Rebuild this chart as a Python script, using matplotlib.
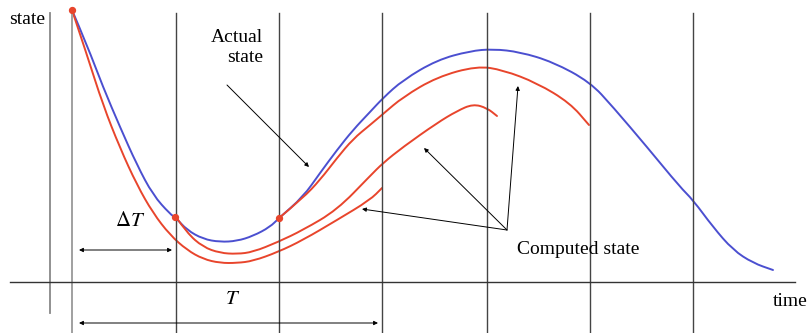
import numpy as np
import matplotlib.pyplot as plt
from matplotlib.path import Path
from matplotlib.patches import PathPatch

# -------------------------------------------
# curve points (pixel-like coordinates, y grows downward)

actual_x = [72, 87, 103, 120, 137, 153, 170, 176, 187, 203, 220, 237, 253, 270, 279,
            303, 320, 337, 353, 370, 383, 403, 437, 470, 493, 520, 553, 590, 613,
            647, 680, 693, 713, 733, 753, 773]
actual_y = [10, 45, 87, 127, 165, 195, 214, 218, 230, 239, 242, 241, 236, 227, 218,
            197, 173, 150, 130, 112, 98, 80, 60, 51, 49, 52, 62, 82, 107,
            147, 187, 200, 227, 250, 263, 270]

comp1_x = [72, 87, 103, 120, 137, 153, 170, 187, 203, 220, 237, 253, 278, 303, 337, 370, 382]
comp1_y = [10, 55, 105, 148, 185, 213, 235, 250, 259, 263, 263, 261, 252, 240, 220, 200, 188]

comp2_x = [176, 187, 203, 220, 237, 253, 278, 303, 337, 370, 383, 403, 437, 457, 473, 487, 497]
comp2_y = [217, 233, 247, 253, 254, 252, 242, 230, 210, 176, 163, 147, 123, 111, 104, 108, 116]

comp3_x = [279, 303, 320, 337, 353, 370, 383, 403, 437, 477, 503, 537, 570, 589]
comp3_y = [218, 198, 180, 158, 139, 125, 114, 97, 77, 66, 70, 83, 103, 125]

# restart points (red dots)
dots_x = [72, 175, 279]
dots_y = [10, 217, 218]

# time grid lines
grid_x = [72, 176, 279, 382, 487, 590, 693]

# -------------------------------------------

def smooth_curve(ax, xs, ys, color):
    # quadratic bezier through the read points, so the sketch has no corners
    pts = list(zip(xs, ys))
    verts = [pts[0]]
    codes = [Path.MOVETO]
    for i in range(1, len(pts) - 1):
        mid = ((pts[i][0] + pts[i + 1][0]) / 2, (pts[i][1] + pts[i + 1][1]) / 2)
        verts += [pts[i], mid]
        codes += [Path.CURVE3, Path.CURVE3]
    verts.append(pts[-1])
    codes.append(Path.LINETO)
    ax.add_patch(PathPatch(Path(verts, codes), fill=False, edgecolor=color, lw=1.4,
                           capstyle='round', joinstyle='round'))


plt.rcParams['font.family'] = ['Liberation Serif', 'DejaVu Serif']
plt.rcParams['mathtext.fontset'] = 'stix'

blue = '#4b4fd0'
red = '#e8452c'

fig = plt.figure(figsize=(8.11, 3.33), dpi=100)
ax = fig.add_axes([0, 0, 1, 1])
ax.set_xlim(0, 811)
ax.set_ylim(333, 0)
ax.axis('off')

# axes of the sketch
ax.plot([50, 50], [13, 313], color='#888888', lw=1.3)
for i, gx in enumerate(grid_x):
    ax.plot([gx, gx], [13, 333], color='#999999' if i == 0 else '#444444', lw=1.0 if i else 1.3)
ax.plot([10, 795], [282, 282], color='#333333', lw=1.0)

smooth_curve(ax, actual_x, actual_y, blue)
smooth_curve(ax, comp1_x, comp1_y, red)
smooth_curve(ax, comp2_x, comp2_y, red)
smooth_curve(ax, comp3_x, comp3_y, red)
ax.scatter(dots_x, dots_y, color=red, s=18, zorder=5)

arrow = dict(arrowstyle='-|>', lw=0.7, color='black', mutation_scale=6, shrinkA=0, shrinkB=0)
both = dict(arrowstyle='<|-|>', lw=0.7, color='black', mutation_scale=6, shrinkA=0, shrinkB=0)

# labels
ax.text(45, 20, 'state', fontsize=14, ha='right', va='center')
ax.text(808, 302, 'time', fontsize=14, ha='right', va='center')
ax.text(263, 37, 'Actual', fontsize=14, ha='right', va='center')
ax.text(263, 57, 'state', fontsize=14, ha='right', va='center')
ax.annotate('', xy=(309, 167), xytext=(227, 85), arrowprops=arrow)

ax.text(517, 249, 'Computed state', fontsize=14, ha='left', va='center')
for tx, ty in [(362, 209), (424, 148), (518, 86)]:
    ax.annotate('', xy=(tx, ty), xytext=(507, 230), arrowprops=arrow)

ax.text(130, 222, r'$\Delta T$', fontsize=15, ha='center', va='center')
ax.annotate('', xy=(172, 250), xytext=(79, 250), arrowprops=both)
ax.text(233, 300, r'$T$', fontsize=15, ha='center', va='center')
ax.annotate('', xy=(378, 323), xytext=(79, 323), arrowprops=both)

plt.savefig('out.png', dpi=100)
